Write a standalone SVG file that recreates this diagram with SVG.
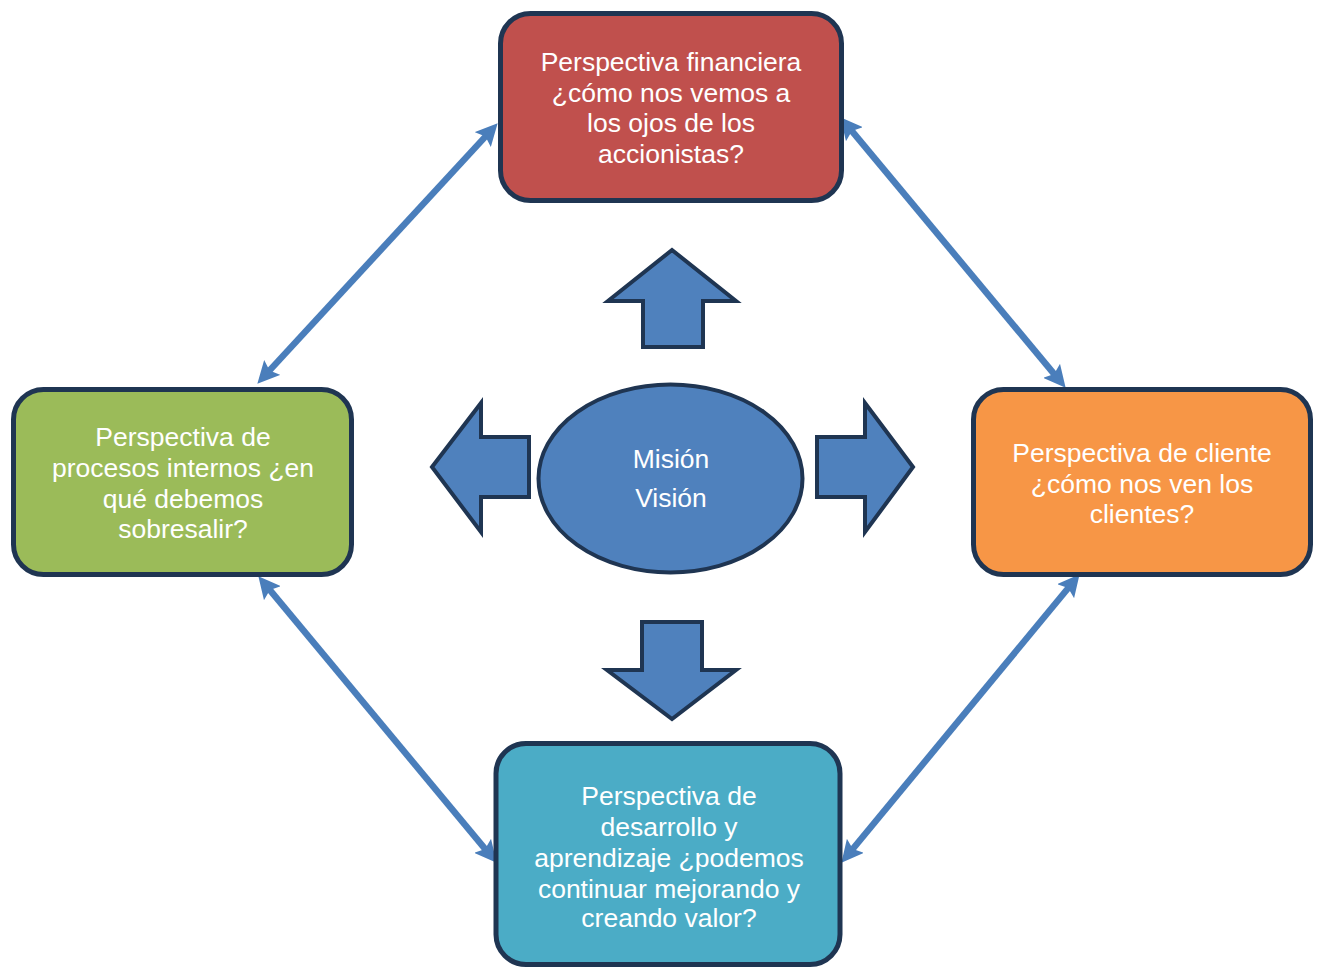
<svg xmlns="http://www.w3.org/2000/svg" width="1317" height="967" viewBox="0 0 1317 967">
  <style>
    .box { stroke: #1f3552; stroke-width: 5; }
    .blk { fill: #4f81bd; stroke: #1f3552; stroke-width: 4; stroke-linejoin: miter; }
    .lbl { font-family: "Liberation Sans", Arial, sans-serif; font-size: 26.5px; fill: #ffffff; text-anchor: middle; }
    .link { stroke: #4a7ebb; stroke-width: 6.5; fill: none; marker-start: url(#head); marker-end: url(#head); }
  </style>
  <defs>
    <marker id="head" markerUnits="userSpaceOnUse" markerWidth="22" markerHeight="22" viewBox="0 0 22 22" refX="11" refY="11" orient="auto-start-reverse">
      <path d="M0,0 L22,11 L0,22 L4,11 z" fill="#4a7ebb"/>
    </marker>
  </defs>
  <rect width="1317" height="967" fill="#ffffff"/>

  <!-- connectors between perspectives -->
  <g id="connectors">
    <line class="link" x1="490.2" y1="131.4" x2="264.8" y2="375.6"/>
    <line class="link" x1="847.4" y1="125.7" x2="1058.6" y2="379.3"/>
    <line class="link" x1="265.4" y1="584.7" x2="489.6" y2="854.3"/>
    <line class="link" x1="1072.6" y1="582.7" x2="848.4" y2="854.3"/>
  </g>

  <!-- block arrows around the centre -->
  <g id="arrow-up">
    <polygon class="blk" points="672,250 736,301 703,301 703,347 643,347 643,301 608,301"/>
  </g>
  <g id="arrow-down">
    <polygon class="blk" points="642,622 702,622 702,670 736,670 672,719 607,670 642,670"/>
  </g>
  <g id="arrow-left">
    <polygon class="blk" points="432,467 481,403 481,437 529,437 529,497 481,497 481,532"/>
  </g>
  <g id="arrow-right">
    <polygon class="blk" points="913,467 865,403 865,437 817,437 817,497 865,497 865,532"/>
  </g>

  <!-- centre -->
  <g id="mision-vision">
    <ellipse cx="670.5" cy="478.5" rx="132" ry="94" fill="#4f81bd" stroke="#1f3552" stroke-width="4"/>
    <text class="lbl" x="671" y="468">Misión</text>
    <text class="lbl" x="671" y="507">Visión</text>
  </g>

  <g id="financiera">
    <rect class="box" x="500.5" y="13.5" width="341" height="187" rx="30" fill="#c0504d"/>
    <text class="lbl" x="671" y="71">Perspectiva financiera</text>
    <text class="lbl" x="671" y="101.5">¿cómo nos vemos a</text>
    <text class="lbl" x="671" y="132">los ojos de los</text>
    <text class="lbl" x="671" y="162.5">accionistas?</text>
  </g>

  <g id="procesos">
    <rect class="box" x="13.5" y="389.5" width="338" height="185" rx="30" fill="#9bbb59"/>
    <text class="lbl" x="183" y="446">Perspectiva de</text>
    <text class="lbl" x="183" y="477">procesos internos ¿en</text>
    <text class="lbl" x="183" y="508">qué debemos</text>
    <text class="lbl" x="183" y="538">sobresalir?</text>
  </g>

  <g id="cliente">
    <rect class="box" x="973.5" y="389.5" width="337" height="185" rx="30" fill="#f79646"/>
    <text class="lbl" x="1142" y="462">Perspectiva de cliente</text>
    <text class="lbl" x="1142" y="493">¿cómo nos ven los</text>
    <text class="lbl" x="1142" y="523">clientes?</text>
  </g>

  <g id="desarrollo">
    <rect class="box" x="496" y="743.5" width="344" height="221" rx="30" fill="#4bacc6"/>
    <text class="lbl" x="669" y="805">Perspectiva de</text>
    <text class="lbl" x="669" y="836">desarrollo y</text>
    <text class="lbl" x="669" y="867">aprendizaje ¿podemos</text>
    <text class="lbl" x="669" y="898">continuar mejorando y</text>
    <text class="lbl" x="669" y="927">creando valor?</text>
  </g>
</svg>
